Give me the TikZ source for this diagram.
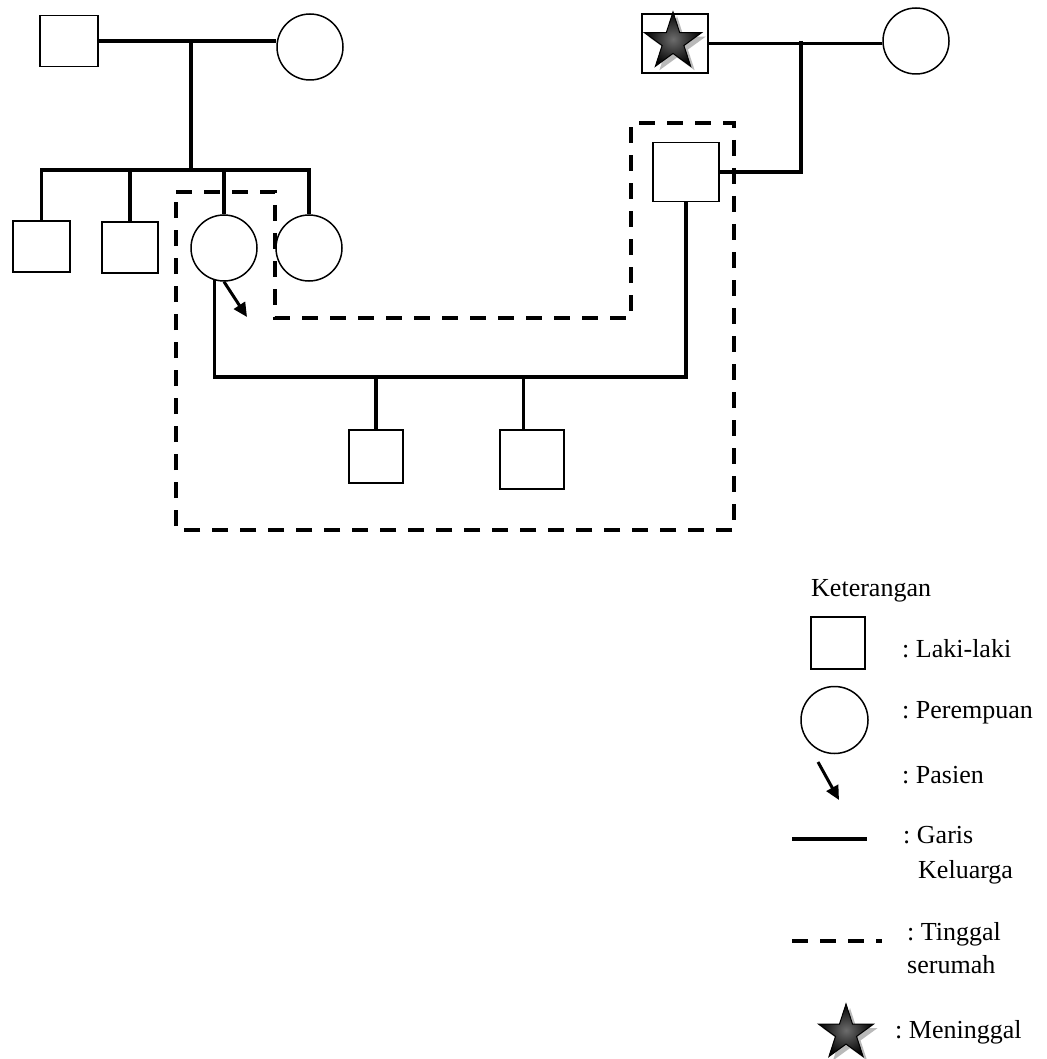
\documentclass[tikz,border=0pt]{standalone}
\usepackage{fontspec}
\setmainfont{Liberation Serif}
\usetikzlibrary{shapes.geometric,arrows.meta,calc}
\begin{document}
\frenchspacing
\begin{tikzpicture}[x=1pt,y=-1pt,
  sq/.style={draw,line width=1.5pt,rectangle,inner sep=0pt,fill=white},
  ci/.style={draw,line width=1.5pt,circle,inner sep=0pt,minimum size=66pt,fill=white},
  fam/.style={line width=3.2pt},
  home/.style={line width=3.5pt,dash pattern=on 16pt off 12pt},
  arr/.style={line width=3pt,-{Triangle[length=14pt,width=13pt]}},
  lbl/.style={anchor=base west,inner sep=0pt,font=\fontsize{26}{30}\selectfont},
  starshape/.style={star,star points=5,star point ratio=2.618,inner sep=0pt,minimum size=#1},
]
\useasboundingbox (0,0) rectangle (1046,1059);
% dashed household outline (drawn first)
\draw[home] (176,192) -- (275,192) -- (275,318) -- (631,318) -- (631,123) -- (734,123) -- (734,530) -- (176,530) -- cycle;

% left grandparents
\node[sq,minimum width=58pt,minimum height=51pt] (gf) at (69,41) {};
\node[ci] (gm) at (310,47) {};
\coordinate (m1) at (191,41);
\coordinate (sib) at (191,170);
% siblings
\node[sq,minimum width=57pt,minimum height=51pt] (s1) at (41.5,246.5) {};
\node[sq,minimum width=56pt,minimum height=51pt] (s2) at (130,247.5) {};
\node[ci] (p) at (224,248) {};
\node[ci] (s4) at (309,248) {};

% right grandparents
\node[sq,minimum width=66pt,minimum height=59pt] (gf2) at (675,43.5) {};
\node[starshape=60pt,fill=gray!55] (star1s) at (677,46) {};
\node[starshape=60pt,draw=black,line width=1pt,shading=radial,inner color=gray!85!black,outer color=black] (star1) at (673,42) {};
\node[ci] (gm2) at (916,41) {};
\coordinate (m2) at (801,41);
% husband
\node[sq,minimum width=66pt,minimum height=59pt] (h) at (686,172) {};
% children
\coordinate (cb) at (450,377);
\node[sq,minimum width=54pt,minimum height=53pt] (c1) at (376,456.5) {};
\node[sq,minimum width=64pt,minimum height=59pt] (c2) at (532,459.5) {};
\coordinate (c2top) at ($(c2.north west)!0.375!(c2.north east)$);

% family lines
\draw[fam] (gf.east) -- (gf.east -| gm.west);
\draw[fam] (m1) -- (sib);
\draw[fam] (s1.north) |- (sib) -| (s4.north);
\draw[fam] (s2.north) -- (s2.north |- sib);
\draw[fam] (p.north) -- (p.north |- sib);
\draw[fam] (gf2.east) -- (gf2.east -| gm2.west);
\draw[fam] (m2) |- (h.east);
\draw[fam] (p.254) |- (cb) -| (h.south);
\draw[fam] (c1.north) -- (c1.north |- cb);
\draw[fam] (c2top) -- (c2top |- cb);
% patient arrow
\coordinate (pa) at (247,317);
\draw[arr] (p.south) -- (pa);

% legend
\node[lbl] (ket) at (811,596) {Keterangan};
\node[sq,minimum width=54pt,minimum height=52pt] (lsq) at (838,643) {};
\node[lbl] (tl) at (902,657) {: Laki-laki};
\node[ci,minimum size=67pt] (lci) at (834.5,720) {};
\node[lbl] (tp) at (902,718) {: Perempuan};
\coordinate (la1) at (818,762);
\coordinate (la2) at (839,800);
\draw[arr] (la1) -- (la2);
\node[lbl] (tpa) at (902,783) {: Pasien};
\coordinate (ls1) at (792,839);
\coordinate (ls2) at (867,839);
\draw[fam,line width=3.5pt] (ls1) -- (ls2);
\node[lbl] (tg) at (903,843) {: Garis};
\node[lbl] (tk) at (918,878) {Keluarga};
\coordinate (ld1) at (792,941);
\coordinate (ld2) at (882,941);
\draw[home] (ld1) -- (ld2);
\node[lbl] (tt) at (907,940) {: Tinggal};
\node[lbl] (ts) at (907,973) {serumah};
\node[starshape=58pt,fill=gray!55] (star2s) at (850,1037) {};
\node[starshape=58pt,draw=black,line width=1pt,shading=radial,inner color=gray!85!black,outer color=black] (star2) at (846,1033) {};
\node[lbl] (tm) at (895,1038) {: Meninggal};
\end{tikzpicture}
\end{document}
